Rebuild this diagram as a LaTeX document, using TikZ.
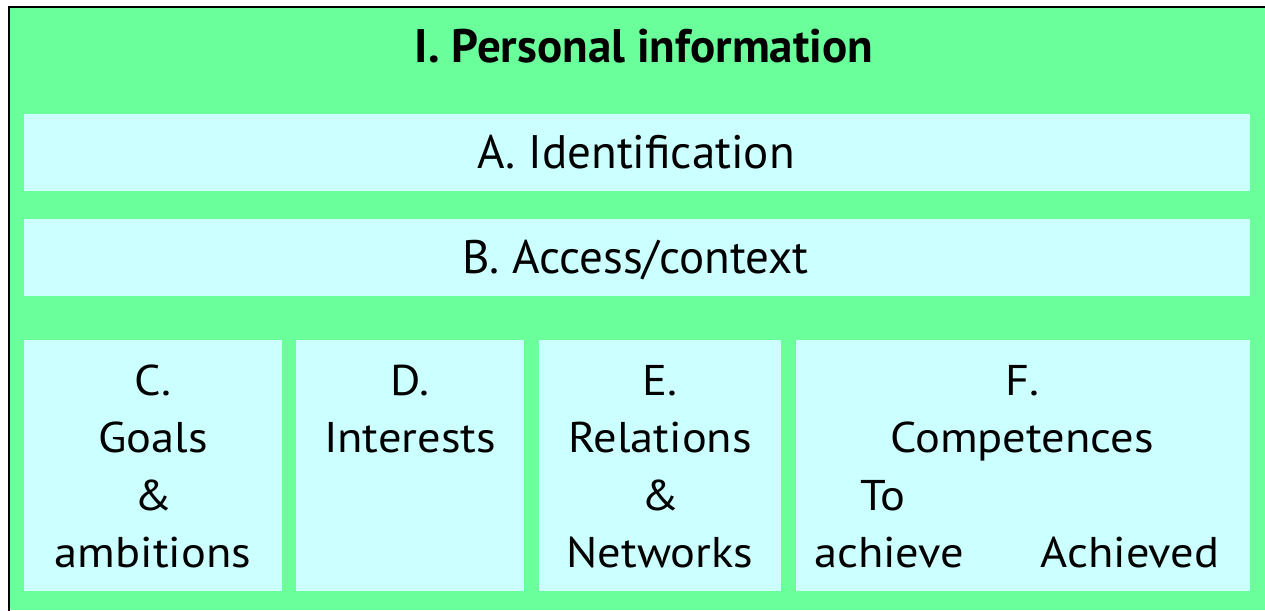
\documentclass[tikz,border=0pt]{standalone}
\usepackage{fontspec}
\setmainfont{PT Sans}
\definecolor{bggreen}{HTML}{6AFF9A}
\definecolor{boxcyan}{HTML}{CCFFFF}
\newcommand{\bx}[1]{\scalebox{1.0}[1]{#1}}
\newcommand{\sx}[1]{\scalebox{1.08}[1]{#1}}
\tikzset{
  panel/.style={fill=boxcyan, draw=none},
  big/.style={anchor=base, inner sep=0pt, font=\fontsize{47}{56}\selectfont},
  small/.style={anchor=base, inner sep=0pt, font=\fontsize{43}{52}\selectfont},
}
\begin{document}
\begin{tikzpicture}[x=1pt,y=-1pt]
\useasboundingbox (0,0) rectangle (1265,610);
\fill[white] (0,0) rectangle (1265,610);
\fill[bggreen] (9,7) rectangle (1265,610);
\draw[black, line width=2pt] (9,620) -- (9,7) -- (1275,7);
% panels
\path[panel] (24,114) rectangle (1250,191);
\path[panel] (24,219) rectangle (1250,296);
\path[panel] (24,340) rectangle (282,591);
\path[panel] (296,340) rectangle (524,591);
\path[panel] (539,340) rectangle (781,591);
\path[panel] (796,340) rectangle (1250,591);
% texts
\node[big, font=\fontsize{47}{56}\selectfont\bfseries] (title) at (644,63) {\bx{I. Personal information}};
\node[big] (A) at (636,168) {\bx{A. Identification}};
\node[big] (B) at (635.5,273) {\bx{B. Access/context}};
% C
\node[small] (c1) at (153,395) {\sx{C.}};
\node[small] (c2) at (153,452) {\sx{Goals}};
\node[small] (c3) at (153,510) {\sx{\&}};
\node[small] (c4) at (153,567) {\sx{ambitions}};
% D
\node[small] (d1) at (410,395) {\sx{D.}};
\node[small] (d2) at (410,452) {\sx{Interests}};
% E
\node[small] (e1) at (660,395) {\sx{E.}};
\node[small] (e2) at (660,452) {\sx{Relations}};
\node[small] (e3) at (660,510) {\sx{\&}};
\node[small] (e4) at (660,567) {\sx{Networks}};
% F
\node[small] (f1) at (1022,395) {\sx{F.}};
\node[small] (f2) at (1022,452) {\sx{Competences}};
\node[small] (f3) at (883,510) {\sx{To}};
\node[small] (f4) at (889,567) {\sx{achieve}};
\node[small] (f5) at (1130,567) {\sx{Achieved}};
\end{tikzpicture}
\end{document}
